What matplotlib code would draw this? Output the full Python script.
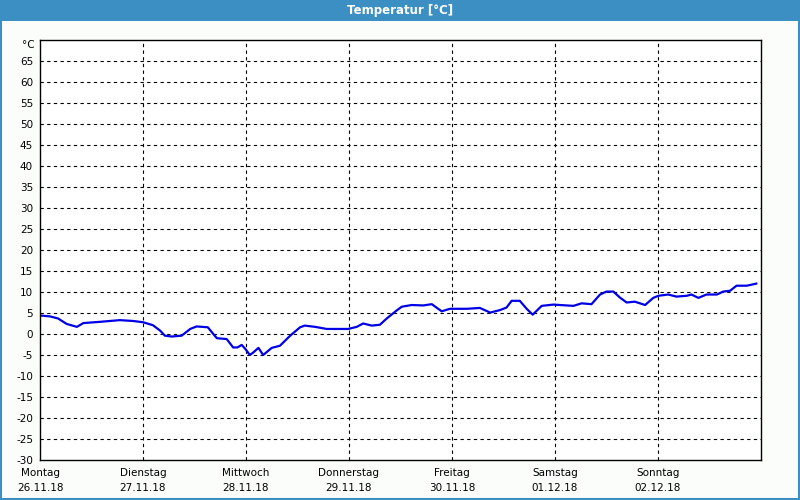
import matplotlib
matplotlib.use("Agg")
import matplotlib.pyplot as plt
from matplotlib.patches import Rectangle
import matplotlib.transforms as mtransforms

# hours since Monday 00:00
hours = [0, 2.3, 4.2, 6.2, 8.6, 10.1, 14.0, 18.6, 21.7, 24.0, 26.3, 28.0, 29.1,
         30.7, 33.0, 35.0, 36.5, 39.1, 41.2, 43.5, 45.0, 46.0, 47.0, 47.8, 48.9,
         49.7, 50.9, 52.0, 54.0, 55.9, 58.3, 60.6, 61.7, 64.1, 66.8, 71.8, 73.8,
         75.3, 77.3, 79.2, 80.8, 83.1, 84.3, 86.6, 89.3, 91.3, 93.6, 95.5, 99.4,
         102.5, 104.9, 107.2, 108.7, 109.9, 111.8, 113.4, 114.8, 116.9, 119.6,
         124.3, 126.2, 128.5, 130.5, 132.0, 133.6, 135.1, 136.7, 138.6, 141.0,
         142.9, 144.1, 146.4, 148.3, 150.7, 151.8, 153.4, 155.3, 157.7, 159.2,
         160.8, 162.3, 164.7, 166.9]
temps = [4.4, 4.2, 3.7, 2.4, 1.7, 2.6, 2.9, 3.3, 3.1, 2.8, 2.1, 0.8, -0.4,
         -0.6, -0.4, 1.2, 1.8, 1.6, -1.0, -1.2, -3.2, -3.2, -2.6, -3.5, -5.0,
         -4.4, -3.3, -5.0, -3.3, -2.8, -0.4, 1.6, 2.0, 1.7, 1.2, 1.2, 1.7,
         2.5, 2.0, 2.2, 3.7, 5.6, 6.5, 6.9, 6.8, 7.1, 5.4, 6.0, 6.0,
         6.2, 5.1, 5.7, 6.3, 7.9, 7.9, 6.0, 4.6, 6.7, 7.0,
         6.7, 7.3, 7.1, 9.4, 10.1, 10.1, 8.7, 7.5, 7.7, 6.9,
         8.6, 9.1, 9.4, 8.9, 9.1, 9.4, 8.6, 9.4, 9.4, 10.1,
         10.3, 11.5, 11.5, 12.0]

day_names = ["Montag", "Dienstag", "Mittwoch", "Donnerstag", "Freitag", "Samstag", "Sonntag"]
day_dates = ["26.11.18", "27.11.18", "28.11.18", "29.11.18", "30.11.18", "01.12.18", "02.12.18"]

blue = "#3b8fc3"
plt.rcParams['font.family'] = ['DejaVu Sans']
plt.rcParams['axes.unicode_minus'] = False

fig = plt.figure(figsize=(8, 5), dpi=100, facecolor="#fbfdfb")
ax = fig.add_axes([40 / 800, 40 / 500, 721 / 800, 420 / 500])
ax.set_facecolor("white")

ax.plot(hours, temps, color="#0000e6", linewidth=1.6, solid_joinstyle="round")

ax.set_xlim(0, 168)
ax.set_ylim(-30, 70)
ax.set_yticks(range(-30, 70, 5))
ax.set_xticks([24 * i for i in range(7)])
ax.set_xticklabels([f"{n}\n{d}" for n, d in zip(day_names, day_dates)],
                   fontsize=7.5, linespacing=1.6)
ax.tick_params(axis="y", labelsize=7.5, length=0, pad=5)
ax.tick_params(axis="x", length=0, pad=6)

for y in range(-25, 70, 5):
    ax.axhline(y, color="black", linewidth=0.8, linestyle=(0, (3, 3)), zorder=0)
for x in range(24, 168, 24):
    ax.axvline(x, color="black", linewidth=0.8, linestyle=(0, (3, 3)), zorder=0)

for s in ax.spines.values():
    s.set_linewidth(1)
    s.set_color("black")

trans = mtransforms.blended_transform_factory(ax.transAxes, ax.transData)
ax.text(-0.008, 68.8, "°C", transform=trans, ha="right", va="center", fontsize=7.5)

# title bar and frame
fig.patches.append(Rectangle((0, 479 / 500), 1, 21 / 500, transform=fig.transFigure,
                             facecolor=blue, edgecolor="none", zorder=0))
fig.patches.append(Rectangle((0.001, 0.002), 0.998, 0.99, transform=fig.transFigure,
                             facecolor="none", edgecolor=blue, linewidth=1.5, zorder=1))
fig.text(0.5, 489.5 / 500, "Temperatur [°C]", color="white", ha="center", va="center",
         fontsize=8.5, fontweight="bold")

fig.savefig("out.png", dpi=100, facecolor=fig.get_facecolor())
